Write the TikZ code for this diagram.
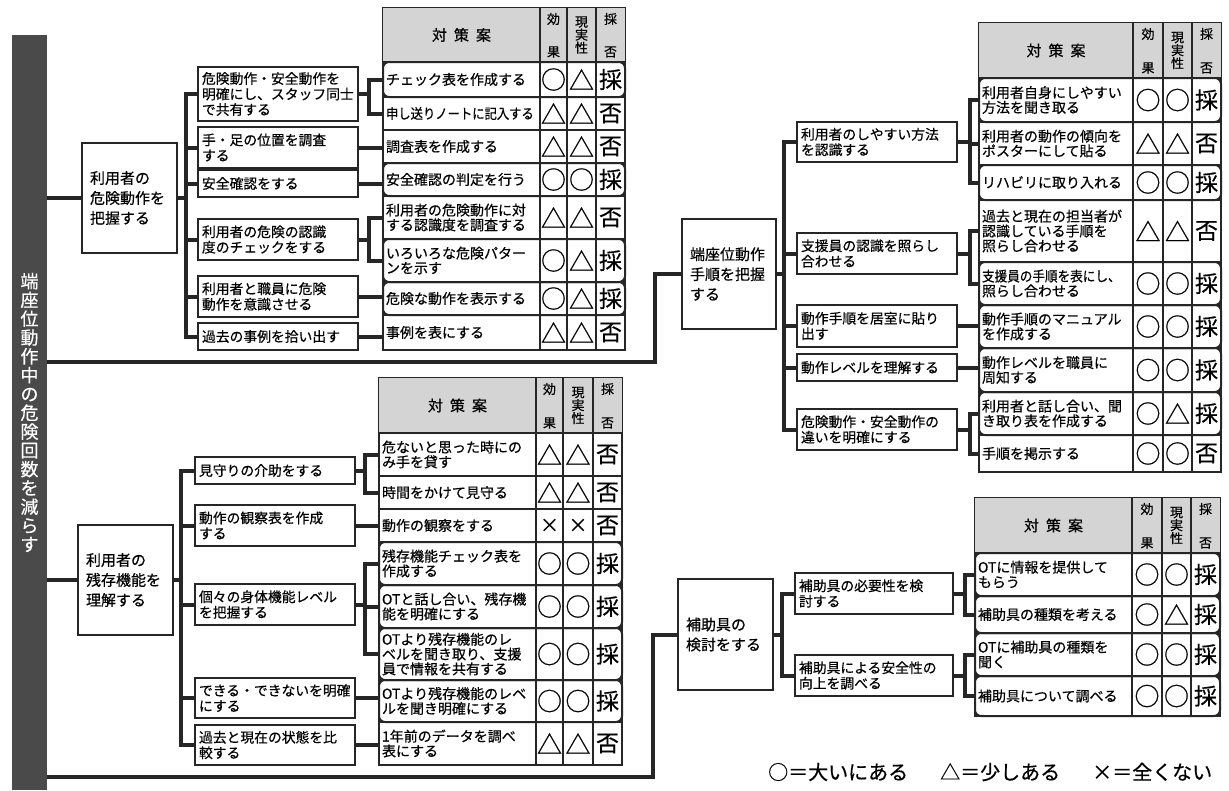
\documentclass[tikz,border=0pt]{standalone}
\usepackage{fontspec}
\usepackage{graphicx}
\setmainfont{Noto Sans CJK JP}[FakeBold=0.5]
\definecolor{ink}{HTML}{262626}
\definecolor{barc}{HTML}{4A4A4A}
\definecolor{hdr}{HTML}{D4D4D4}
\tikzset{
  box/.style={draw=ink, line width=1.4pt, fill=white, inner xsep=4pt, inner ysep=0pt, align=left, font=\fontsize{13.8}{15.5}\selectfont},
  rootbox/.style={draw=ink, line width=1.4pt, fill=white, inner xsep=8pt, inner ysep=0pt, align=left, font=\fontsize{15}{20}\selectfont},
  cell/.style={inner xsep=3pt, inner ysep=0pt, align=left, font=\fontsize{14}{14.8}\selectfont},
  sym/.style={inner sep=0pt, font=\fontsize{25}{25}\selectfont},
  adopt/.style={inner sep=0pt, font=\fontsize{23}{23}\selectfont},
  hd/.style={inner sep=0pt, font=\fontsize{13}{13}\selectfont},
  gridl/.style={draw=ink, line width=1.1pt},
  tframe/.style={draw=ink, line width=1.8pt},
  rrow/.style={draw=ink, line width=2pt, rounded corners=6pt},
  conn/.style={draw=ink, line width=4pt},
}
\newcommand\bx[6]{\node[box, minimum width={#4-#2}, minimum height={#5-#3}, text width={#4-#2-8}] (#1) at ({(#2+#4)/2},{(#3+#5)/2}) {#6};}
\newcommand\rbx[6]{\node[rootbox, minimum width={#4-#2}, minimum height={#5-#3}, text width={#4-#2-16}] (#1) at ({(#2+#4)/2},{(#3+#5)/2}) {#6};}
\newcommand\tcols[5]{\def\tca{#1}\def\tcb{#2}\def\tcc{#3}\def\tcd{#4}\def\tce{#5}}
\newcommand\thead[3]{%
  \fill[hdr] (\tca,#2) rectangle (\tce,#3);
  \node[hd, font=\fontsize{15}{15}\selectfont] (#1k) at ({(\tca+\tcb)/2},{(#2+#3)/2}) {対\hspace{7pt}策\hspace{7pt}案};
  \node[hd] (#1e1) at ({(\tcb+\tcc)/2},{#2+11}) {効};
  \node[hd] (#1e2) at ({(\tcb+\tcc)/2},{#3-10}) {果};
  \node[hd, align=center] (#1r) at ({(\tcc+\tcd)/2},{(#2+#3)/2}) {現\\実\\性};
  \node[hd] (#1a1) at ({(\tcd+\tce)/2},{#2+11}) {採};
  \node[hd] (#1a2) at ({(\tcd+\tce)/2},{#3-10}) {否};
  \draw[gridl] (\tcb,#2)--(\tcb,#3) (\tcc,#2)--(\tcc,#3) (\tcd,#2)--(\tcd,#3);
}
\newcommand\trow[8]{%
  \node[cell, minimum width={\tcb-\tca}, minimum height={#3-#2}, text width={\tcb-\tca-6}] (#1) at ({(\tca+\tcb)/2},{(#2+#3)/2}) {#4};
  \node[sym] (#1e) at ({(\tcb+\tcc)/2},{(#2+#3)/2}) {#5};
  \node[sym] (#1r) at ({(\tcc+\tcd)/2},{(#2+#3)/2}) {#6};
  \node[adopt] (#1a) at ({(\tcd+\tce)/2},{(#2+#3)/2}) {#7};
  \draw[gridl] (\tca,#2)--(\tce,#2) (\tcb,#2)--(\tcb,#3) (\tcc,#2)--(\tcc,#3) (\tcd,#2)--(\tcd,#3);
  \ifnum#8=1 \draw[rrow] (\tca,#2) rectangle (\tce,#3);\fi
}
\newcommand\xx{{\fontsize{19}{19}\selectfont ×}}
\newcommand\sq[1]{\scalebox{0.9}[1]{#1}}
\begin{document}
\begin{tikzpicture}[x=1pt,y=-1pt]
\fill[white] (0,0) rectangle (1229,790);
\useasboundingbox (0,0) rectangle (1229,790);

% left bar
\node[fill=barc, inner sep=0pt, minimum width=35, minimum height=755, text=white, align=center, font=\fontsize{18}{18.8}\selectfont] (bar) at (29.5,412.5) {端\\座\\位\\動\\作\\中\\の\\危\\険\\回\\数\\を\\減\\ら\\す};

% ---------- top-left ----------
\rbx{rA}{82}{143}{177}{253}{利用者の\\危険動作を\\把握する}
\bx{al1}{198}{67}{358}{121}{危険動作・安全動作を\\明確にし、スタッフ同士\\で共有する}
\bx{al2}{198}{127}{358}{168}{手・足の位置を調査\\する}
\bx{al3}{198}{170}{358}{197}{安全確認をする}
\bx{al4}{198}{219}{358}{260}{利用者の危険の認識\\度のチェックをする}
\bx{al5}{198}{276}{358}{317}{利用者と職員に危険\\動作を意識させる}
\bx{al6}{198}{323}{358}{350}{過去の事例を拾い出す}

\tcols{383}{540}{567}{596}{625}
\draw[tframe] (\tca,8) rectangle (\tce,350);
\thead{tlh}{8}{62}
\trow{tl1}{62}{97}{チェック表を作成する}{○}{△}{採}{1}
\trow{tl2}{97}{130}{\scalebox{0.88}[1]{申し送りノートに記入する}}{△}{△}{否}{0}
\trow{tl3}{130}{163}{調査表を作成する}{△}{△}{否}{0}
\trow{tl4}{163}{196}{安全確認の判定を行う}{○}{○}{採}{1}
\trow{tl5}{196}{239}{利用者の危険動作に対\\する認識度を調査する}{△}{△}{否}{0}
\trow{tl6}{239}{282}{いろいろな危険パター\\ンを示す}{○}{△}{採}{1}
\trow{tl7}{282}{315}{危険な動作を表示する}{○}{△}{採}{1}
\trow{tl8}{315}{350}{事例を表にする}{△}{△}{否}{0}

% ---------- bottom-left ----------
\rbx{rB}{78}{525}{173}{635}{利用者の\\残存機能を\\理解する}
\bx{bm1}{195}{457}{355}{484}{見守りの介助をする}
\bx{bm2}{195}{505}{355}{546}{動作の観察表を作成\\する}
\bx{bm3}{195}{584}{355}{625}{個々の身体機能レベル\\を把握する}
\bx{bm4}{195}{678}{355}{718}{できる・できないを明確\\にする}
\bx{bm5}{195}{725}{355}{765}{過去と現在の状態を比\\較する}

\tcols{379}{536}{563}{593}{622}
\draw[tframe] (\tca,378) rectangle (\tce,765);
\thead{blh}{378}{433}
\trow{bl1}{433}{476}{危ないと思った時にの\\み手を貸す}{△}{△}{否}{0}
\trow{bl2}{476}{509}{時間をかけて見守る}{△}{△}{否}{0}
\trow{bl3}{509}{542}{動作の観察をする}{\xx}{\xx}{否}{0}
\trow{bl4}{542}{585}{残存機能チェック表を\\作成する}{○}{○}{採}{1}
\trow{bl5}{585}{628}{OTと話し合い、残存機\\能を明確にする}{○}{○}{採}{1}
\trow{bl6}{628}{680}{OTより残存機能のレ\\ベルを聞き取り、支援\\員で情報を共有する}{○}{○}{採}{1}
\trow{bl7}{680}{722}{OTより残存機能のレベ\\ルを聞き明確にする}{○}{○}{採}{1}
\trow{bl8}{722}{765}{1年前のデータを調べ\\表にする}{△}{△}{否}{0}

% ---------- top-right ----------
\rbx{rC}{682}{219}{776}{329}{端座位動作\\手順を把握\\する}
\bx{cr1}{797}{122}{957}{162}{利用者のしやすい方法\\を認識する}
\bx{cr2}{797}{233}{957}{274}{支援員の認識を照らし\\合わせる}
\bx{cr3}{797}{305}{957}{347}{動作手順を居室に貼り\\出す}
\bx{cr4}{797}{354}{957}{381}{動作レベルを理解する}
\bx{cr5}{797}{409}{957}{450}{危険動作・安全動作の\\違いを明確にする}

\tcols{979}{1133}{1163}{1192}{1221}
\draw[tframe] (\tca,23) rectangle (\tce,472);
\thead{trh}{23}{78}
\trow{tr1}{78}{122}{利用者自身にしやすい\\方法を聞き取る}{○}{○}{採}{1}
\trow{tr2}{122}{165}{利用者の動作の傾向を\\ポスターにして貼る}{△}{△}{否}{0}
\trow{tr3}{165}{200}{リハビリに取り入れる}{○}{○}{採}{1}
\trow{tr4}{200}{262}{過去と現在の担当者が\\認識している手順を\\照らし合わせる}{△}{△}{否}{0}
\trow{tr5}{262}{305}{\sq{支援員の手順を表にし、}\\照らし合わせる}{○}{○}{採}{1}
\trow{tr6}{305}{348}{動作手順のマニュアル\\を作成する}{○}{○}{採}{1}
\trow{tr7}{348}{392}{動作レベルを職員に\\周知する}{○}{○}{採}{1}
\trow{tr8}{392}{435}{利用者と話し合い、聞\\き取り表を作成する}{○}{△}{採}{1}
\trow{tr9}{435}{472}{手順を掲示する}{○}{○}{否}{0}

% ---------- bottom-right ----------
\rbx{rD}{678}{579}{773}{690}{補助具の\\検討をする}
\bx{dr1}{795}{573}{953}{614}{補助具の必要性を検\\討する}
\bx{dr2}{795}{655}{953}{696}{補助具による安全性の\\向上を調べる}

\tcols{975}{1132}{1162}{1191}{1220}
\draw[tframe] (\tca,498) rectangle (\tce,716);
\thead{brh}{498}{553}
\trow{br1}{553}{596}{OTに情報を提供して\\もらう}{○}{○}{採}{1}
\trow{br2}{596}{633}{補助具の種類を考える}{○}{△}{採}{1}
\trow{br3}{633}{676}{OTに補助具の種類を\\聞く}{○}{○}{採}{1}
\trow{br4}{676}{716}{補助具について調べる}{○}{○}{採}{1}

% legend
\node[anchor=west, inner sep=0pt, font=\fontsize{20}{20}\selectfont] (legend) at (768,772) {○＝大いにある\hspace{32pt}△＝少しある\hspace{32pt}×＝全くない};

% ---------- connectors ----------
\draw[conn] (bar.east |- rA.west) -- (rA.west);
\draw[conn] (bar.east |- rB.west) -- (rB.west);
\coordinate (j1) at (655,362);
\coordinate (j2) at (653,777);
\draw[conn] (bar.east |- j1) -- (j1) |- (rC.west);
\draw[conn] (bar.east |- j2) -- (j2) |- (rD.west);

\foreach \n in {al1,al2,al3,al4,al5,al6} \draw[conn] (rA.east) -| ([xshift=-11pt]\n.west) -- (\n.west);
\foreach \n in {bm1,bm2,bm3,bm4,bm5} \draw[conn] (rB.east) -| ([xshift=-13pt]\n.west) -- (\n.west);
\foreach \n in {cr1,cr2,cr3,cr4,cr5} \draw[conn] (rC.east) -| ([xshift=-12pt]\n.west) -- (\n.west);
\foreach \n in {dr1,dr2} \draw[conn] (rD.east) -| ([xshift=-12pt]\n.west) -- (\n.west);

% brackets to several rows
\foreach \a/\b in {al1/tl1,al1/tl2,al4/tl5,al4/tl6} \draw[conn] (\a.east) -| ([xshift=-14pt]\b.west) -- (\b.west);
\foreach \a/\b in {bm1/bl1,bm1/bl2,bm3/bl4,bm3/bl5,bm3/bl6} \draw[conn] (\a.east) -| ([xshift=-14pt]\b.west) -- (\b.west);
\foreach \a/\b in {cr1/tr1,cr1/tr2,cr1/tr3,cr2/tr4,cr2/tr5,cr5/tr8,cr5/tr9} \draw[conn] (\a.east) -| ([xshift=-9pt]\b.west) -- (\b.west);
\foreach \a/\b in {dr1/br1,dr1/br2,dr2/br3,dr2/br4} \draw[conn] (\a.east) -| ([xshift=-10pt]\b.west) -- (\b.west);
% single rows
\foreach \a/\b in {al2/tl3,al3/tl4,al5/tl7,al6/tl8,bm2/bl3,bm4/bl7,bm5/bl8,cr3/tr6,cr4/tr7} \draw[conn] (\a.east) -- (\a.east -| \b.west);
\end{tikzpicture}
\end{document}
